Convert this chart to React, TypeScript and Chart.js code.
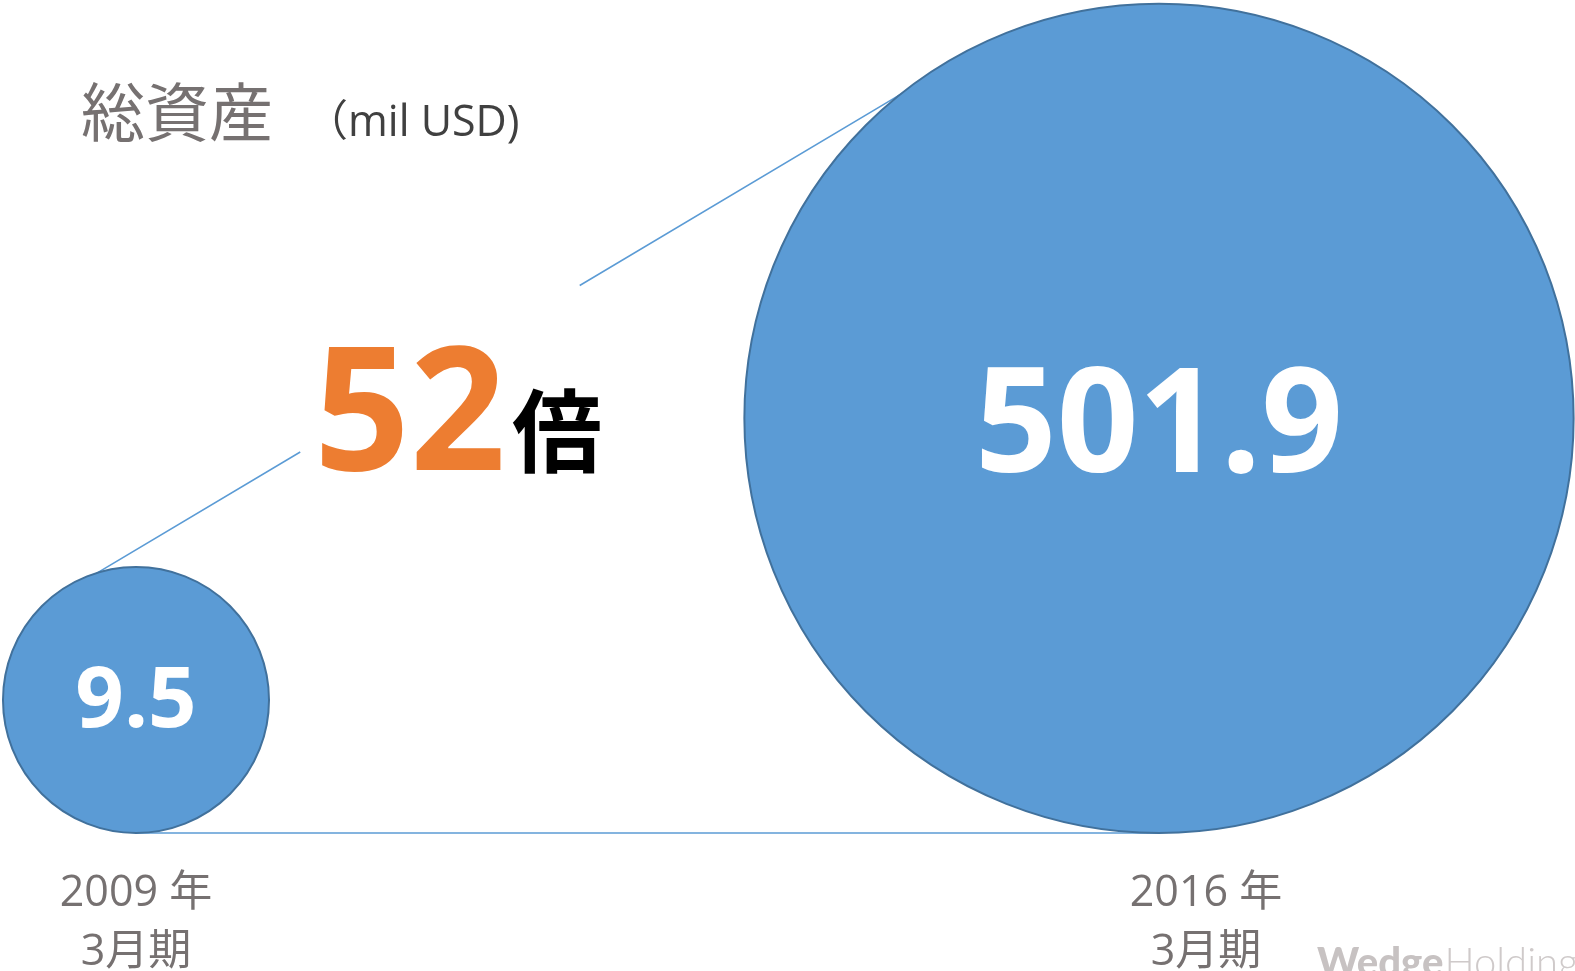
import React, { useEffect, useRef } from 'react';
import { Chart, registerables } from 'chart.js';

Chart.register(...registerables);

// ---- data ----
const categories = ['2009 年', '2016 年'];
const periodLabels = ['3月期', '3月期'];
const totalAssets = [9.5, 501.9];
const valueLabels = ['9.5', '501.9'];
const growthMultiple = '52';
const multipleUnit = '倍';
const titleText = '総資産';
const unitText = '（mil USD)';
const watermarkBold = 'Wedge';
const watermarkLight = 'Holdings';

// ---- layout / style ----
const W = 1575;
const H = 971;
const BASELINE_PX = 833; // canvas y of the common bottom line
const X0_PX = 136; // canvas x of category 0
const X_STEP_PX = 1023; // px per category step
const SIZE_K = 69.77; // bubble radius scale: r = K * v^P
const SIZE_P = 0.2866;
const radiusFor = (v: number) => SIZE_K * Math.pow(v, SIZE_P);
const labelOffsets = [0, 47];

const BLUE = '#5B9BD5';
const BLUE_BORDER = '#41719C';
const GRAY = '#767171';
const ORANGE = '#ED7D31';

function scaledText(ctx: CanvasRenderingContext2D, text: string, x: number, y: number, sx: number) {
  ctx.save();
  ctx.translate(x, y);
  ctx.scale(sx, 1);
  ctx.fillText(text, 0, 0);
  ctx.restore();
}

const overlayPlugin = {
  id: 'overlay',
  beforeDatasetsDraw(chart: any) {
    const ctx = chart.ctx as CanvasRenderingContext2D;
    const els = chart.getDatasetMeta(0).data;
    if (els.length < 2) return;
    const a = els[0];
    const b = els[1];
    const r1 = a.options.radius;
    const r2 = b.options.radius;
    const base = chart.scales.y.getPixelForValue(0);
    ctx.save();
    ctx.strokeStyle = BLUE;
    ctx.lineWidth = 1.5;
    // bottom line
    ctx.beginPath();
    ctx.moveTo(a.x, base);
    ctx.lineTo(b.x, base);
    ctx.stroke();
    // upper (near) tangent, slightly inset, with a gap for the "52倍" label
    const dx = b.x - a.x;
    const dy = b.y - a.y;
    const D = Math.hypot(dx, dy);
    const ux = dx / D;
    const uy = dy / D;
    const c = (r2 - r1) / D;
    const s = Math.sqrt(1 - c * c);
    let nx = c * ux + s * -uy;
    let ny = c * uy + s * ux;
    if (ny < 0) {
      nx = c * ux - s * -uy;
      ny = c * uy - s * ux;
    }
    const inset = 4;
    const p1x = a.x - (r1 - inset) * nx;
    const p1y = a.y - (r1 - inset) * ny;
    const p2x = b.x - (r2 - inset) * nx;
    const p2y = b.y - (r2 - inset) * ny;
    const g0 = 0.262;
    const g1 = 0.58;
    ctx.beginPath();
    ctx.moveTo(p1x, p1y);
    ctx.lineTo(p1x + (p2x - p1x) * g0, p1y + (p2y - p1y) * g0);
    ctx.moveTo(p1x + (p2x - p1x) * g1, p1y + (p2y - p1y) * g1);
    ctx.lineTo(p2x, p2y);
    ctx.stroke();
    ctx.restore();
  },
  afterDatasetsDraw(chart: any) {
    const ctx = chart.ctx as CanvasRenderingContext2D;
    const els = chart.getDatasetMeta(0).data;
    ctx.save();
    // value labels inside bubbles
    const valueSizes = [85, 146];
    const valueScale = [1, 0.98];
    els.forEach((el: any, i: number) => {
      const fs = valueSizes[i];
      ctx.font = `bold ${fs}px 'Open Sans'`;
      ctx.fillStyle = '#FFFFFF';
      ctx.textAlign = 'center';
      ctx.textBaseline = 'alphabetic';
      scaledText(ctx, valueLabels[i], el.x, el.y + fs * 0.357 + (i === 0 ? -3 : 2), valueScale[i]);
    });
    // category labels
    ctx.fillStyle = GRAY;
    ctx.textAlign = 'center';
    ctx.textBaseline = 'alphabetic';
    ctx.font = `43px 'Open Sans', 'Noto Sans CJK JP'`;
    els.forEach((el: any, i: number) => {
      const x = el.x + labelOffsets[i];
      ctx.fillText(categories[i], x, 906);
      ctx.fillText(periodLabels[i], x, 965);
    });
    // title
    ctx.textAlign = 'left';
    ctx.textBaseline = 'middle';
    ctx.font = `64px 'Noto Sans CJK JP'`;
    ctx.fillStyle = GRAY;
    ctx.fillText(titleText, 81, 112);
    ctx.textBaseline = 'alphabetic';
    ctx.font = `43px 'Open Sans', 'Noto Sans CJK JP'`;
    ctx.fillStyle = '#404040';
    ctx.fillText(unitText, 305, 136);
    // 52倍
    ctx.font = `bold 172px 'Open Sans'`;
    ctx.fillStyle = ORANGE;
    scaledText(ctx, growthMultiple, 314, 470, 0.975);
    ctx.font = `bold 90px 'Noto Sans CJK JP'`;
    ctx.fillStyle = '#000000';
    ctx.textBaseline = 'middle';
    ctx.fillText(multipleUnit, 512, 431);
    // watermark
    ctx.textBaseline = 'alphabetic';
    ctx.font = `900 40px 'Lato', 'Liberation Sans'`;
    ctx.fillStyle = '#C7C2C2';
    ctx.fillText(watermarkBold, 1317, 976);
    const ww = ctx.measureText(watermarkBold).width;
    ctx.font = `300 40px 'Lato', 'Liberation Sans'`;
    ctx.fillStyle = '#CFCACA';
    ctx.fillText(watermarkLight, 1317 + ww + 1, 976);
    ctx.restore();
  },
};

export default function App() {
  const canvasRef = useRef<HTMLCanvasElement | null>(null);

  useEffect(() => {
    document.body.style.margin = '0';
    const canvas = canvasRef.current;
    if (!canvas) return;
    const chart = new Chart(canvas, {
      type: 'bubble',
      data: {
        datasets: [
          {
            label: titleText,
            data: totalAssets.map((v, i) => ({ x: i, y: radiusFor(v), r: radiusFor(v) })),
            backgroundColor: BLUE,
            borderColor: BLUE_BORDER,
            borderWidth: 2,
            clip: false,
          } as any,
        ],
      },
      options: {
        animation: false,
        responsive: false,
        events: [],
        layout: { padding: 0, autoPadding: false },
        plugins: {
          legend: { display: false },
          tooltip: { enabled: false },
        },
        scales: {
          x: {
            type: 'linear',
            display: false,
            min: -X0_PX / X_STEP_PX,
            max: (W - X0_PX) / X_STEP_PX,
          },
          y: {
            type: 'linear',
            display: false,
            min: -(H - BASELINE_PX),
            max: BASELINE_PX,
          },
        },
      },
      plugins: [overlayPlugin],
    });
    return () => chart.destroy();
  }, []);

  return (
    <div style={{ position: 'absolute', left: 0, top: 0, width: W, height: H, background: '#fff' }}>
      <canvas ref={canvasRef} width={W} height={H} style={{ display: 'block', width: W, height: H }} />
    </div>
  );
}
